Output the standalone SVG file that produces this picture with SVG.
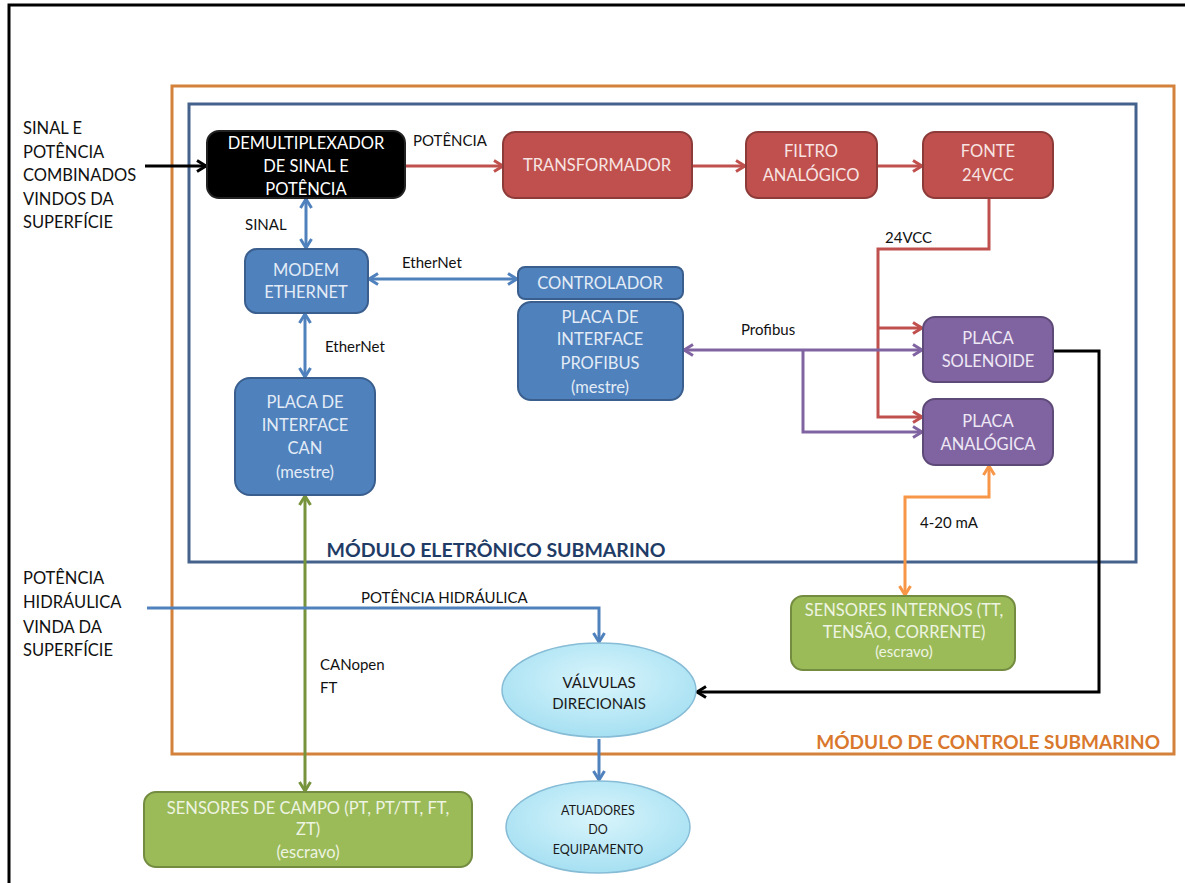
<svg xmlns="http://www.w3.org/2000/svg" width="1185" height="883" viewBox="0 0 1185 883">
<defs>
<style>
.t{font-family:Lato,"Open Sans","Liberation Sans",sans-serif;font-size:16.5px;text-anchor:middle}
.l{font-family:Lato,"Open Sans","Liberation Sans",sans-serif;font-size:16.5px;fill:#111}
.lab{font-family:Lato,"Open Sans","Liberation Sans",sans-serif;font-size:15px;fill:#111}
.red{fill:#C0504D;stroke:#8C3B38;stroke-width:2}
.blue{fill:#4F81BD;stroke:#3A5F8E;stroke-width:2}
.pur{fill:#8064A2;stroke:#5E4A78;stroke-width:2}
.grn{fill:#9BBB59;stroke:#738C40;stroke-width:2}
.ell{fill:url(#eg);stroke:#86BCD6;stroke-width:1.5}
.wr{fill:#F7E4E3}.wb{fill:#E3ECF6}.wp{fill:#EEE8F4}.wg{fill:#EEF4E2}
.c{fill:none;stroke-width:3}
</style>
<radialGradient id="eg" cx="50%" cy="40%" r="60%">
<stop offset="0" stop-color="#D9F5FC"/>
<stop offset="1" stop-color="#A6E0F2"/>
</radialGradient>
<marker id="mr" viewBox="0 0 14 14" refX="12" refY="7" markerWidth="14" markerHeight="14" markerUnits="userSpaceOnUse" orient="auto-start-reverse"><path d="M3,1.5 L12,7 L3,12.5" fill="none" stroke="#C0504D" stroke-width="3" stroke-linejoin="round"/></marker>
<marker id="mb" viewBox="0 0 14 14" refX="12" refY="7" markerWidth="14" markerHeight="14" markerUnits="userSpaceOnUse" orient="auto-start-reverse"><path d="M3,1.5 L12,7 L3,12.5" fill="none" stroke="#4F81BD" stroke-width="3" stroke-linejoin="round"/></marker>
<marker id="mp" viewBox="0 0 14 14" refX="12" refY="7" markerWidth="14" markerHeight="14" markerUnits="userSpaceOnUse" orient="auto-start-reverse"><path d="M3,1.5 L12,7 L3,12.5" fill="none" stroke="#8064A2" stroke-width="3" stroke-linejoin="round"/></marker>
<marker id="mg" viewBox="0 0 14 14" refX="12" refY="7" markerWidth="14" markerHeight="14" markerUnits="userSpaceOnUse" orient="auto-start-reverse"><path d="M3,1.5 L12,7 L3,12.5" fill="none" stroke="#77933C" stroke-width="3" stroke-linejoin="round"/></marker>
<marker id="mo" viewBox="0 0 14 14" refX="12" refY="7" markerWidth="14" markerHeight="14" markerUnits="userSpaceOnUse" orient="auto-start-reverse"><path d="M3,1.5 L12,7 L3,12.5" fill="none" stroke="#F79646" stroke-width="3" stroke-linejoin="round"/></marker>
<marker id="mk" viewBox="0 0 14 14" refX="12" refY="7" markerWidth="14" markerHeight="14" markerUnits="userSpaceOnUse" orient="auto-start-reverse"><path d="M3,1.5 L12,7 L3,12.5" fill="none" stroke="#000" stroke-width="3" stroke-linejoin="round"/></marker>
</defs>

<rect width="1185" height="883" fill="#fff"/>
<!-- page frame -->
<path d="M9,883 V5 H1185" fill="none" stroke="#000" stroke-width="3"/>

<!-- module outlines -->
<g id="modulo-controle">
<rect x="172" y="86" width="1002" height="668" fill="none" stroke="#D4823B" stroke-width="3"/>
<text x="1160" y="749" style="font-family:Lato,'Open Sans','Liberation Sans',sans-serif;font-size:19px;font-weight:bold;fill:#D9782D;text-anchor:end">MÓDULO DE CONTROLE SUBMARINO</text>
</g>
<g id="modulo-eletronico">
<rect x="189" y="104" width="947" height="458" fill="none" stroke="#44628C" stroke-width="3"/>
<text x="496" y="557" style="font-family:Lato,'Open Sans','Liberation Sans',sans-serif;font-size:19.5px;font-weight:bold;fill:#1F3C66;text-anchor:middle">MÓDULO ELETRÔNICO SUBMARINO</text>
</g>

<!-- outside inputs -->
<g id="entrada-sinal">
<text class="l" x="23" y="134">SINAL E</text>
<text class="l" x="23" y="158">POTÊNCIA</text>
<text class="l" x="23" y="181">COMBINADOS</text>
<text class="l" x="23" y="205">VINDOS DA</text>
<text class="l" x="23" y="228">SUPERFÍCIE</text>
</g>
<g id="entrada-hidraulica">
<text class="l" x="23" y="584">POTÊNCIA</text>
<text class="l" x="23" y="608">HIDRÁULICA</text>
<text class="l" x="23" y="633">VINDA DA</text>
<text class="l" x="23" y="656">SUPERFÍCIE</text>
</g>

<!-- connectors -->
<g id="conectores">
<path class="c" d="M145,166 H206" stroke="#000" marker-end="url(#mk)"/>
<path class="c" d="M405,166 H503" stroke="#C0504D" marker-end="url(#mr)"/>
<path class="c" d="M692,166 H745" stroke="#C0504D" marker-end="url(#mr)"/>
<path class="c" d="M877,166 H922" stroke="#C0504D" marker-end="url(#mr)"/>
<path class="c" d="M989,198 V249 H878 V417 H922" stroke="#C0504D" marker-end="url(#mr)"/>
<path class="c" d="M878,328 H922" stroke="#C0504D" marker-end="url(#mr)"/>
<path class="c" d="M306,199 V248" stroke="#4F81BD" marker-start="url(#mb)" marker-end="url(#mb)"/>
<path class="c" d="M369,279 H517" stroke="#4F81BD" marker-start="url(#mb)" marker-end="url(#mb)"/>
<path class="c" d="M305,314 V377" stroke="#4F81BD" marker-start="url(#mb)" marker-end="url(#mb)"/>
<path class="c" d="M684,350 H922" stroke="#8064A2" marker-start="url(#mp)" marker-end="url(#mp)"/>
<path class="c" d="M803,350 V432 H922" stroke="#8064A2" marker-end="url(#mp)"/>
<path class="c" d="M1053,351 H1099 V692 H697" stroke="#000" marker-end="url(#mk)"/>
<path class="c" d="M989,466 V497 H905 V595" stroke="#F79646" marker-start="url(#mo)" marker-end="url(#mo)"/>
<path class="c" d="M305,496 V791" stroke="#77933C" marker-start="url(#mg)" marker-end="url(#mg)"/>
<path class="c" d="M147,608 H599 V642" stroke="#4F81BD" marker-end="url(#mb)"/>
<path class="c" d="M599,739 V780" stroke="#4F81BD" marker-end="url(#mb)"/>
<text class="lab" x="413" y="146">POTÊNCIA</text>
<text class="lab" x="245" y="230">SINAL</text>
<text class="lab" x="402" y="268">EtherNet</text>
<text class="lab" x="325" y="352">EtherNet</text>
<text class="lab" x="885" y="243">24VCC</text>
<text class="lab" x="741" y="335">Profibus</text>
<text class="lab" x="920" y="528">4-20 mA</text>
<text class="lab" x="361" y="603">POTÊNCIA HIDRÁULICA</text>
<text class="lab" x="320" y="670">CANopen</text>
<text class="lab" x="320" y="693">FT</text>
</g>

<!-- nodes -->
<g id="demultiplexador">
<rect x="207" y="131" width="198" height="67" rx="12" fill="#000" stroke="#222" stroke-width="2"/>
<text class="t" x="306" y="149" fill="#fff">DEMULTIPLEXADOR</text>
<text class="t" x="306" y="172" fill="#fff">DE SINAL  E</text>
<text class="t" x="306" y="195" fill="#fff">POTÊNCIA</text>
</g>
<g id="transformador">
<rect class="red" x="503" y="132" width="189" height="66" rx="12"/>
<text class="t wr" x="597" y="171">TRANSFORMADOR</text>
</g>
<g id="filtro">
<rect class="red" x="746" y="132" width="131" height="66" rx="12"/>
<text class="t wr" x="811" y="157">FILTRO</text>
<text class="t wr" x="811" y="181">ANALÓGICO</text>
</g>
<g id="fonte">
<rect class="red" x="923" y="132" width="130" height="66" rx="12"/>
<text class="t wr" x="988" y="157">FONTE</text>
<text class="t wr" x="988" y="181">24VCC</text>
</g>
<g id="modem">
<rect class="blue" x="245" y="249" width="123" height="64" rx="12"/>
<text class="t wb" x="306" y="276">MODEM</text>
<text class="t wb" x="306" y="298">ETHERNET</text>
</g>
<g id="controlador">
<rect class="blue" x="518" y="267" width="165" height="32" rx="7"/>
<text class="t wb" x="600" y="289">CONTROLADOR</text>
</g>
<g id="placa-profibus">
<rect class="blue" x="518" y="302" width="165" height="98" rx="13"/>
<text class="t wb" x="600" y="323">PLACA DE</text>
<text class="t wb" x="600" y="345">INTERFACE</text>
<text class="t wb" x="600" y="369">PROFIBUS</text>
<text class="t wb" x="600" y="393">(mestre)</text>
</g>
<g id="placa-can">
<rect class="blue" x="235" y="378" width="140" height="117" rx="15"/>
<text class="t wb" x="305" y="408">PLACA DE</text>
<text class="t wb" x="305" y="431">INTERFACE</text>
<text class="t wb" x="305" y="454">CAN</text>
<text class="t wb" x="305" y="478">(mestre)</text>
</g>
<g id="placa-solenoide">
<rect class="pur" x="923" y="317" width="130" height="65" rx="12"/>
<text class="t wp" x="988" y="344">PLACA</text>
<text class="t wp" x="988" y="367">SOLENOIDE</text>
</g>
<g id="placa-analogica">
<rect class="pur" x="923" y="399" width="130" height="66" rx="12"/>
<text class="t wp" x="988" y="427">PLACA</text>
<text class="t wp" x="988" y="450">ANALÓGICA</text>
</g>
<g id="sensores-internos">
<rect class="grn" x="791" y="596" width="224" height="74" rx="12"/>
<text class="t wg" x="904" y="616">SENSORES INTERNOS (TT,</text>
<text class="t wg" x="904" y="638">TENSÃO, CORRENTE)</text>
<text class="t wg" x="904" y="657" style="font-size:15px">(escravo)</text>
</g>
<g id="valvulas">
<ellipse class="ell" cx="599" cy="690" rx="97" ry="47"/>
<text class="t" x="599" y="688" fill="#1A1A1A" style="font-size:15px">VÁLVULAS</text>
<text class="t" x="599" y="709" fill="#1A1A1A" style="font-size:15px">DIRECIONAIS</text>
</g>
<g id="sensores-campo">
<rect class="grn" x="144" y="792" width="328" height="75" rx="12"/>
<text class="t wg" x="308" y="814">SENSORES DE CAMPO (PT, PT/TT, FT,</text>
<text class="t wg" x="308" y="835">ZT)</text>
<text class="t wg" x="308" y="858">(escravo)</text>
</g>
<g id="atuadores">
<ellipse class="ell" cx="598" cy="827" rx="92" ry="46"/>
<text class="t" x="598" y="815" fill="#1A1A1A" style="font-size:12.5px">ATUADORES</text>
<text class="t" x="598" y="834" fill="#1A1A1A" style="font-size:12.5px">DO</text>
<text class="t" x="598" y="854" fill="#1A1A1A" style="font-size:12.5px">EQUIPAMENTO</text>
</g>
</svg>
